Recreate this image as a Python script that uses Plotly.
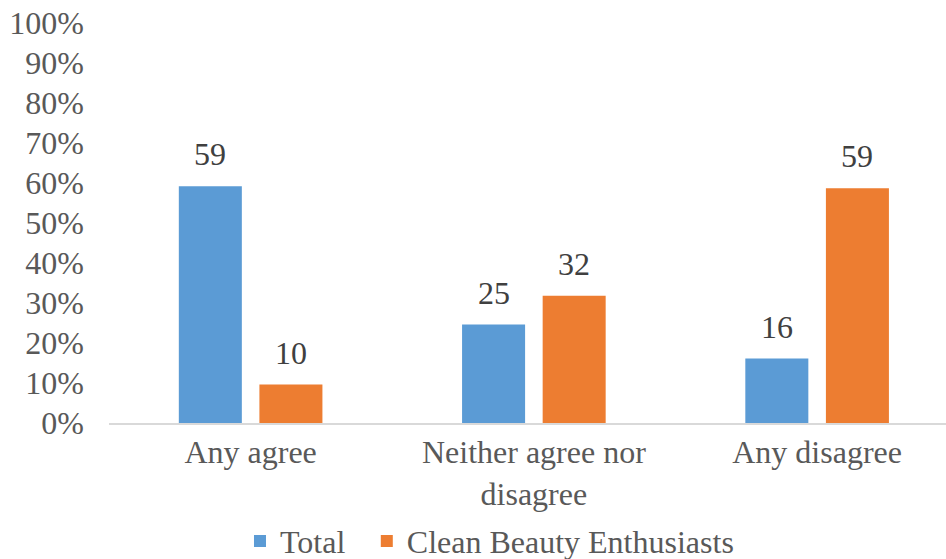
import plotly.graph_objects as go

categories = ["Any agree", "Neither agree nor<br>disagree", "Any disagree"]
total_values = [59.2, 24.6, 16.1]
total_labels = ["59", "25", "16"]
cbe_values = [9.6, 31.8, 58.7]
cbe_labels = ["10", "32", "59"]
y_ticks = [0, 10, 20, 30, 40, 50, 60, 70, 80, 90, 100]
y_tick_text = [f"{v}%" for v in y_ticks]

FONT = "Liberation Serif, Times New Roman, serif"
BLUE = "#5B9BD5"
ORANGE = "#ED7D31"
FS = 32

fig = go.Figure()
fig.add_trace(go.Bar(name="Total", x=categories, y=total_values, legend="legend",
                     marker=dict(color=BLUE, line=dict(width=0))))
fig.add_trace(go.Bar(name="Clean Beauty Enthusiasts", x=categories, y=cbe_values, legend="legend2",
                     marker=dict(color=ORANGE, line=dict(width=0))))

# data labels as annotations above bars
bar_offset = 40.3
for vals, labs, sh in [(total_values, total_labels, -bar_offset), (cbe_values, cbe_labels, bar_offset)]:
    for c, v, t in zip(categories, vals, labs):
        fig.add_annotation(x=c, y=v, text=t, showarrow=False, xshift=sh,
                           yanchor="bottom", yshift=12,
                           font=dict(family=FONT, size=FS, color="#404040"))

legend_common = dict(orientation="h", xanchor="left", yref="container", y=0.032, yanchor="middle",
                     font=dict(family=FONT, size=FS, color="#595959"), itemwidth=30,
                     bgcolor="rgba(0,0,0,0)")

fig.update_layout(
    width=946, height=559,
    margin=dict(l=109, r=0, t=23, b=136),
    paper_bgcolor="white", plot_bgcolor="white",
    barmode="group", bargap=0.431, bargroupgap=0.218,
    font=dict(family=FONT, size=FS, color="#595959"),
    showlegend=True,
    legend=dict(x=0.1565, **legend_common),
    legend2=dict(x=0.308, **legend_common),
    xaxis=dict(type="category", range=[-0.5, 2.455], showline=True, linecolor="#D9D9D9",
               linewidth=1.5, showgrid=False, ticks="", tickfont=dict(family=FONT, size=FS, color="#595959"),
               fixedrange=True),
    yaxis=dict(range=[0, 100], tickvals=y_ticks, ticktext=y_tick_text, showgrid=False,
               zeroline=False, showline=False, ticks="", ticklabelstandoff=24,
               tickfont=dict(family=FONT, size=FS, color="#595959"), fixedrange=True),
)

fig.write_html("out.html")
